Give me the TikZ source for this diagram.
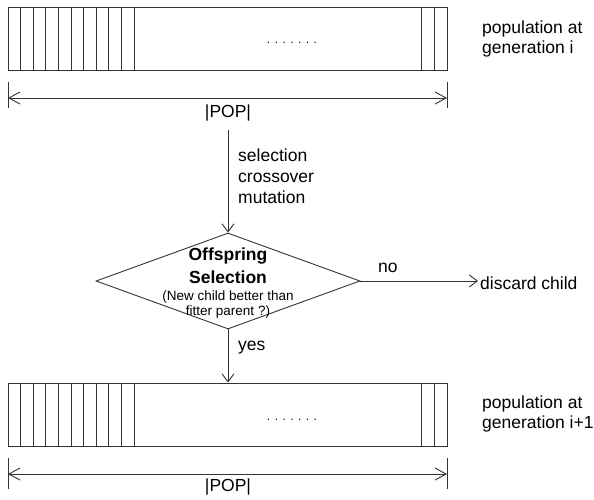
\documentclass[tikz,border=0pt]{standalone}
\usepackage{fontspec}
\setmainfont{Liberation Sans}
\usetikzlibrary{arrows.meta,shapes.geometric}
\tikzset{line/.style={line width=.9pt,draw=black!80},flow/.style={line,-{Straight Barb[length=8pt,width=12pt]}},span/.style={line,{Straight Barb[length=11pt,width=12pt]}-{Straight Barb[length=11pt,width=12pt]}},txt/.style={inner sep=0pt,font=\fontsize{17.5}{20}\selectfont},popbox/.style={line,minimum width=439pt,minimum height=63pt,inner sep=0pt},decision/.style={diamond,line,minimum width=264pt,minimum height=96pt,inner sep=0pt}}

\begin{document}
\begin{tikzpicture}[x=1pt,y=-1pt]
\path[use as bounding box] (0,0) rectangle (594,500);
% population i
\node[popbox,draw] (pop1) at (227.5,38.5) {};
\foreach \i in {1,...,10} \draw[line] (8+12.6*\i,7) -- (8+12.6*\i,70);
\draw[line] (421.7,7) -- (421.7,70);
\draw[line] (434.3,7) -- (434.3,70);
\node[txt,anchor=base] (dots1) at (292,44) {\fontsize{12}{14}\selectfont . . . . . . .};
\node[txt,anchor=west,align=left] (gen1) at (482,39) {population at\\generation i};
\draw[line] (8,82) -- (8,108);
\draw[line] (447,82) -- (447,108);
\draw[span] (8,98) -- (447,98);
\node[txt] (size1) at (228,113) {|POP|};
% offspring selection
\node[decision,draw] (dec) at (228,281) {};
\draw[flow] ([yshift=-9pt]size1.south) -- (dec.north);
\node[txt,anchor=west,align=left,font=\fontsize{17.5}{21}\selectfont] (ops) at (238,176) {selection\\crossover\\mutation};
\node[txt,anchor=base,font=\fontsize{17.5}{20}\selectfont\bfseries] (dec1) at (228,260) {Offspring};
\node[txt,anchor=base,font=\fontsize{17.5}{20}\selectfont\bfseries] (dec2) at (228,283) {Selection};
\node[txt,anchor=base,font=\fontsize{13.5}{15}\selectfont] (dec3) at (228,300) {(New child better than};
\node[txt,anchor=base,font=\fontsize{13.5}{15}\selectfont] (dec4) at (228,315) {fitter parent ?)};
\node[txt,anchor=west,inner sep=2pt] (discard) at (478,283) {discard child};
\draw[flow] (dec.east) -- (dec.east -| discard.west);
\node[txt,anchor=west] (no) at (378,268) {no};
% population i+1
\node[popbox,draw] (pop2) at (227.5,414.5) {};
\foreach \i in {1,...,10} \draw[line] (8+12.6*\i,383) -- (8+12.6*\i,446);
\draw[line] (421.7,383) -- (421.7,446);
\draw[line] (434.3,383) -- (434.3,446);
\node[txt,anchor=base] (dots2) at (292,420) {\fontsize{12}{14}\selectfont . . . . . . .};
\draw[flow] (dec.south) -- (dec.south |- pop2.north);
\node[txt,anchor=west] (yes) at (238,348) {yes};
\node[txt,anchor=west,align=left] (gen2) at (482,414) {population at\\generation i+1};
\draw[line] (8,458) -- (8,489);
\draw[line] (447,458) -- (447,489);
\draw[span] (8,474) -- (447,474);
\node[txt] (size2) at (228,487) {|POP|};
\end{tikzpicture}
\end{document}
